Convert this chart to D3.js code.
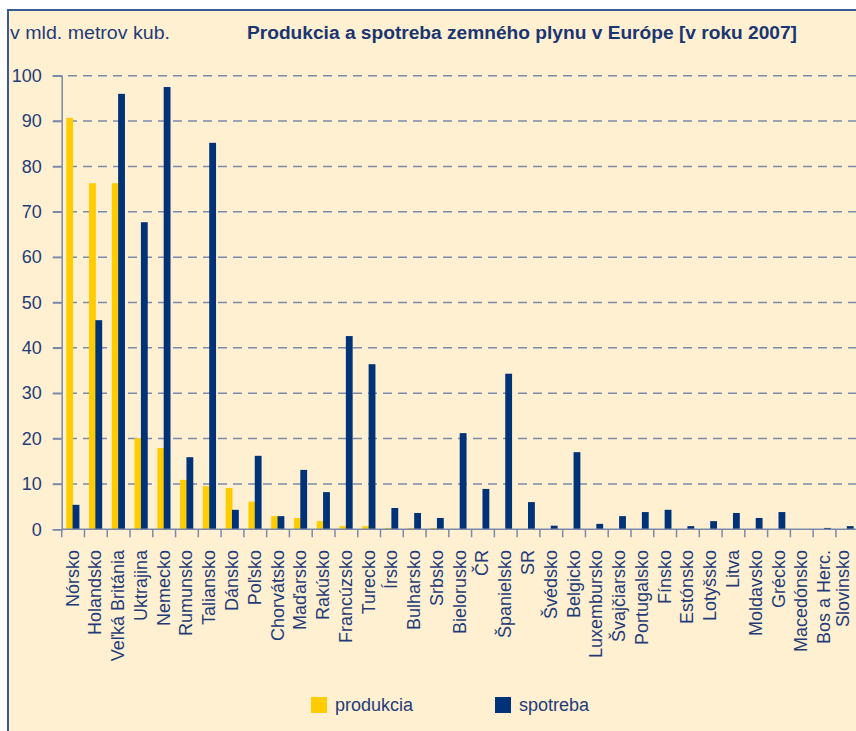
<!DOCTYPE html>
<html>
<head>
<meta charset="utf-8">
<script src="https://cdn.jsdelivr.net/npm/d3@7"></script>
<style>
  body { margin: 0; background: #fff; }
  svg { display: block; font-family: "Liberation Sans", Arial, sans-serif; }
  .axis-label { fill: #1f3c78; font-size: 18px; }
</style>
</head>
<body>
<svg id="chart"></svg>
<script>
// Data (billion m3, 2007)
const countries = ['Nórsko', 'Holandsko', 'Veľká Británia', 'Uktrajina', 'Nemecko', 'Rumunsko',
  'Taliansko', 'Dánsko', 'Poľsko', 'Chorvátsko', 'Maďarsko', 'Rakúsko', 'Francúzsko', 'Turecko',
  'Írsko', 'Bulharsko', 'Srbsko', 'Bielorusko', 'ČR', 'Španielsko', 'SR', 'Švédsko', 'Belgicko',
  'Luxembursko', 'Švajčiarsko', 'Portugalsko', 'Fínsko', 'Estónsko', 'Lotyšsko', 'Litva',
  'Moldavsko', 'Grécko', 'Macedónsko', 'Bos a Herc.', 'Slovinsko'];
const produkcia = [90.7, 76.3, 76.3, 20.1, 17.9, 10.9, 9.5, 9.1, 6.1, 2.9, 2.5, 1.8, 0.7, 0.7,
  0.3, 0.3, 0.3, 0, 0, 0, 0, 0, 0, 0, 0, 0, 0, 0, 0, 0, 0, 0, 0, 0, 0];
const spotreba = [5.4, 46.1, 96.0, 67.7, 97.5, 15.9, 85.2, 4.3, 16.2, 2.9, 13.1, 8.2, 42.6, 36.4,
  4.7, 3.6, 2.5, 21.2, 8.9, 34.3, 6.0, 0.8, 17.0, 1.2, 2.9, 3.8, 4.3, 0.7, 1.8, 3.6, 2.5, 3.8,
  0, 0.3, 0.7];
const yTicks = [0, 10, 20, 30, 40, 50, 60, 70, 80, 90, 100];
const seriesNames = ['produkcia', 'spotreba'];

const width = 856, height = 731;
const colors = { produkcia: '#ffcc00', spotreba: '#003278' };
const textColor = '#1f3c78';
const gridColor = '#7b8aab';

const svg = d3.select('#chart')
  .attr('width', width)
  .attr('height', height);

// Cream panel with the blue frame on top and left
svg.append('rect')
  .attr('x', 8).attr('y', 10)
  .attr('width', width).attr('height', height)
  .attr('fill', '#fff0d2');
svg.append('path')
  .attr('d', `M8,${height} V10 H${width}`)
  .attr('fill', 'none')
  .attr('stroke', '#3a5a95')
  .attr('stroke-width', 2);

// Scales
const xScale = d3.scaleBand()
  .domain(countries)
  .range([61.7, 858.7])
  .padding(0);

const yScale = d3.scaleLinear()
  .domain([0, 100])
  .range([529.3, 75.7]);

const x0 = xScale.range()[0];

// Dashed gridlines
svg.append('g')
  .selectAll('line')
  .data(yTicks.filter(d => d > 0))
  .join('line')
  .attr('x1', 53)
  .attr('x2', width)
  .attr('y1', d => yScale(d))
  .attr('y2', d => yScale(d))
  .attr('stroke', gridColor)
  .attr('stroke-width', 1.5)
  .attr('stroke-dasharray', '9,6');

// Y axis
const yAxis = d3.axisLeft(yScale)
  .tickValues(yTicks)
  .tickSize(9)
  .tickPadding(11);

const yAxisG = svg.append('g')
  .attr('transform', `translate(${x0},0)`)
  .call(yAxis);
yAxisG.select('.domain').attr('stroke', gridColor).attr('stroke-width', 1.5);
yAxisG.selectAll('.tick line').attr('stroke', gridColor).attr('stroke-width', 1.5);
yAxisG.selectAll('.tick text')
  .attr('class', 'axis-label')
  .attr('fill', textColor)
  .style('font-size', '18px')
  .style('font-family', '"Liberation Sans", Arial, sans-serif');

// Bars: yellow left of the band centre, blue right of it
const bw = xScale.bandwidth() * 0.3;
const bars = svg.append('g');

bars.selectAll('.bar-produkcia')
  .data(countries)
  .join('rect')
  .attr('class', 'bar-produkcia')
  .attr('x', (d, i) => xScale(d) + xScale.bandwidth() / 2 - bw)
  .attr('width', bw)
  .attr('y', (d, i) => yScale(produkcia[i]))
  .attr('height', (d, i) => yScale(0) - yScale(produkcia[i]))
  .attr('fill', colors.produkcia);

bars.selectAll('.bar-spotreba')
  .data(countries)
  .join('rect')
  .attr('class', 'bar-spotreba')
  .attr('x', (d, i) => xScale(d) + xScale.bandwidth() / 2 - 0.5)
  .attr('width', bw)
  .attr('y', (d, i) => yScale(spotreba[i]))
  .attr('height', (d, i) => yScale(0) - yScale(spotreba[i]))
  .attr('fill', colors.spotreba);

// X axis: line plus ticks on band boundaries
const xAxisG = svg.append('g');
xAxisG.append('line')
  .attr('x1', x0).attr('x2', width)
  .attr('y1', yScale(0)).attr('y2', yScale(0))
  .attr('stroke', gridColor)
  .attr('stroke-width', 1.5);
xAxisG.selectAll('.x-tick')
  .data(countries)
  .join('line')
  .attr('class', 'x-tick')
  .attr('x1', d => xScale(d))
  .attr('x2', d => xScale(d))
  .attr('y1', yScale(0))
  .attr('y2', yScale(0) + 8)
  .attr('stroke', gridColor)
  .attr('stroke-width', 1.5);

// Rotated category labels (the last one sits a bit left, as in the reference)
xAxisG.selectAll('.x-label')
  .data(countries)
  .join('text')
  .attr('class', 'axis-label x-label')
  .attr('text-anchor', 'end')
  .attr('transform', (d, i) => {
    const off = i === countries.length - 1 ? 2 : 5.5;
    return `translate(${xScale(d) + xScale.bandwidth() / 2 + off},550) rotate(-90)`;
  })
  .text(d => d);

// Unit label and title
svg.append('text')
  .attr('x', 10)
  .attr('y', 39)
  .attr('fill', textColor)
  .style('font-size', '18px')
  .attr('textLength', 160)
  .attr('lengthAdjust', 'spacingAndGlyphs')
  .text('v mld. metrov kub.');

svg.append('text')
  .attr('x', 247)
  .attr('y', 39)
  .attr('fill', '#1a3570')
  .style('font-size', '18px')
  .style('font-weight', 'bold')
  .attr('textLength', 550)
  .attr('lengthAdjust', 'spacingAndGlyphs')
  .text('Produkcia a spotreba zemného plynu v Európe [v roku 2007]');

// Legend
const legendX = [311, 495];
const legend = svg.append('g')
  .selectAll('g')
  .data(seriesNames)
  .join('g')
  .attr('transform', (d, i) => `translate(${legendX[i]},697)`);

legend.append('rect')
  .attr('width', 16)
  .attr('height', 16)
  .attr('fill', d => colors[d]);

legend.append('text')
  .attr('class', 'axis-label')
  .attr('x', 24)
  .attr('y', 14)
  .text(d => d);
</script>
</body>
</html>
